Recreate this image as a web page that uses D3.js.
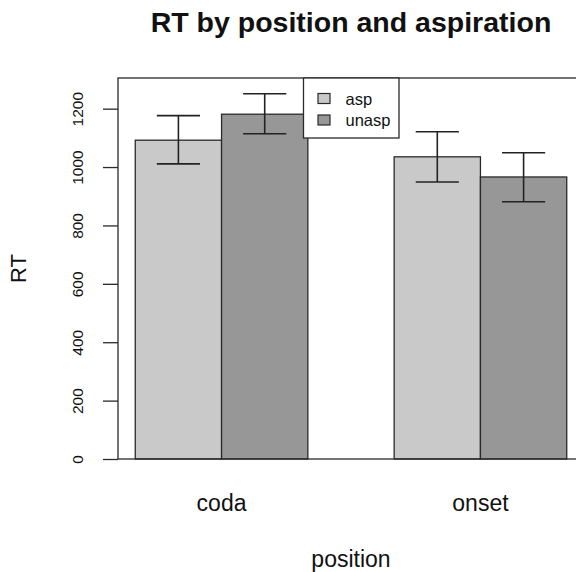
<!DOCTYPE html>
<html>
<head>
<meta charset="utf-8">
<script src="https://cdn.jsdelivr.net/npm/d3@7"></script>
<style>
  body { margin: 0; background: #fff; }
  text { font-family: "Liberation Sans", Arial, sans-serif; fill: #111; }
</style>
</head>
<body>
<svg></svg>
<script>
var positions = ['coda', 'onset'];
var aspirations = ['asp', 'unasp'];
var means = [[1092, 1181], [1035, 966]];
var lower = [[1011, 1114], [949, 881]];
var upper = [[1176, 1251], [1121, 1049]];
var yTicks = [0, 200, 400, 600, 800, 1000, 1200];
var fills = ['#c9c9c9', '#979797'];

var width = 576, height = 572;
var svg = d3.select('svg')
   .attr('width', width)
   .attr('height', height);

// bar units as in R barplot: each bar 1 wide, 1 unit gap between groups
var x = d3.scaleLinear()
   .domain([0.8, 6.2])
   .range([118, 584]);

var y = d3.scaleLinear()
   .domain([0, 1305])
   .range([459, 78]);

var bars = [];
positions.forEach((p, i) => {
   aspirations.forEach((a, j) => {
      var left = 1 + i * 3 + j;
      bars.push({ pos: p, asp: a, j: j, x0: left, x1: left + 1,
         v: means[i][j], lo: lower[i][j], hi: upper[i][j] });
   });
});

svg.append('g')
   .selectAll('rect')
   .data(bars)
   .enter()
   .append('rect')
   .attr('x', (d) => x(d.x0))
   .attr('width', (d) => x(d.x1) - x(d.x0))
   .attr('y', (d) => y(d.v))
   .attr('height', (d) => y(0) - y(d.v))
   .attr('fill', (d) => fills[d.j])
   .attr('stroke', '#2a2a2a')
   .attr('stroke-width', 1.3);

// error bars
var err = svg.append('g')
   .attr('stroke', '#222')
   .attr('stroke-width', 1.6);

bars.forEach((d) => {
   var cx = x((d.x0 + d.x1) / 2);
   var hw = x(0.25) - x(0);
   err.append('line').attr('x1', cx).attr('x2', cx).attr('y1', y(d.lo)).attr('y2', y(d.hi));
   err.append('line').attr('x1', cx - hw).attr('x2', cx + hw).attr('y1', y(d.lo)).attr('y2', y(d.lo));
   err.append('line').attr('x1', cx - hw).attr('x2', cx + hw).attr('y1', y(d.hi)).attr('y2', y(d.hi));
});

// plot box
svg.append('rect')
   .attr('x', x(0.8))
   .attr('y', y.range()[1])
   .attr('width', x(6.2) - x(0.8))
   .attr('height', y(0) - y.range()[1])
   .attr('fill', 'none')
   .attr('stroke', '#2a2a2a')
   .attr('stroke-width', 1.3);

// y axis
var yAxis = svg.append('g')
   .attr('transform', 'translate(' + x(0.8) + ',0)')
   .call(d3.axisLeft(y).tickValues(yTicks).tickSize(15).tickPadding(0).tickFormat(d3.format('d')));
yAxis.select('.domain').remove();
yAxis.selectAll('.tick line').attr('stroke', '#2a2a2a').attr('stroke-width', 1.3);
yAxis.selectAll('.tick text')
   .attr('x', 0)
   .attr('dy', 0)
   .attr('transform', 'translate(-35,0) rotate(-90)')
   .attr('text-anchor', 'middle')
   .style('font-family', '"Liberation Sans", Arial, sans-serif')
   .style('font-size', '15.5px')
   .attr('fill', '#111');

// category labels
svg.append('g')
   .selectAll('text')
   .data(positions)
   .enter()
   .append('text')
   .attr('x', (d, i) => x(2 + i * 3))
   .attr('y', 511)
   .attr('text-anchor', 'middle')
   .style('font-size', '23px')
   .text((d) => d);

// axis titles
svg.append('text')
   .attr('x', x(3.5))
   .attr('y', 567)
   .attr('text-anchor', 'middle')
   .style('font-size', '23px')
   .text('position');

svg.append('text')
   .attr('transform', 'translate(26,' + ((y(0) + y.range()[1]) / 2) + ') rotate(-90)')
   .attr('text-anchor', 'middle')
   .style('font-size', '22px')
   .text('RT');

svg.append('text')
   .attr('x', x(3.5))
   .attr('y', 32)
   .attr('text-anchor', 'middle')
   .style('font-size', '28.5px')
   .style('font-weight', 'bold')
   .text('RT by position and aspiration');

// legend
var legend = svg.append('g')
   .attr('transform', 'translate(303.5,78)');

legend.append('rect')
   .attr('width', 95.5)
   .attr('height', 60)
   .attr('fill', '#fff')
   .attr('stroke', '#2a2a2a')
   .attr('stroke-width', 1.3);

var items = legend.selectAll('g.item')
   .data(aspirations)
   .enter()
   .append('g')
   .attr('class', 'item')
   .attr('transform', (d, i) => 'translate(0,' + (20.5 + i * 21.5) + ')');

items.append('rect')
   .attr('x', 14.5)
   .attr('y', -5)
   .attr('width', 12)
   .attr('height', 10)
   .attr('fill', (d, i) => fills[i])
   .attr('stroke', '#2a2a2a')
   .attr('stroke-width', 1.2);

items.append('text')
   .attr('x', 42)
   .attr('y', 6)
   .style('font-size', '16.5px')
   .text((d) => d);
</script>
</body>
</html>
